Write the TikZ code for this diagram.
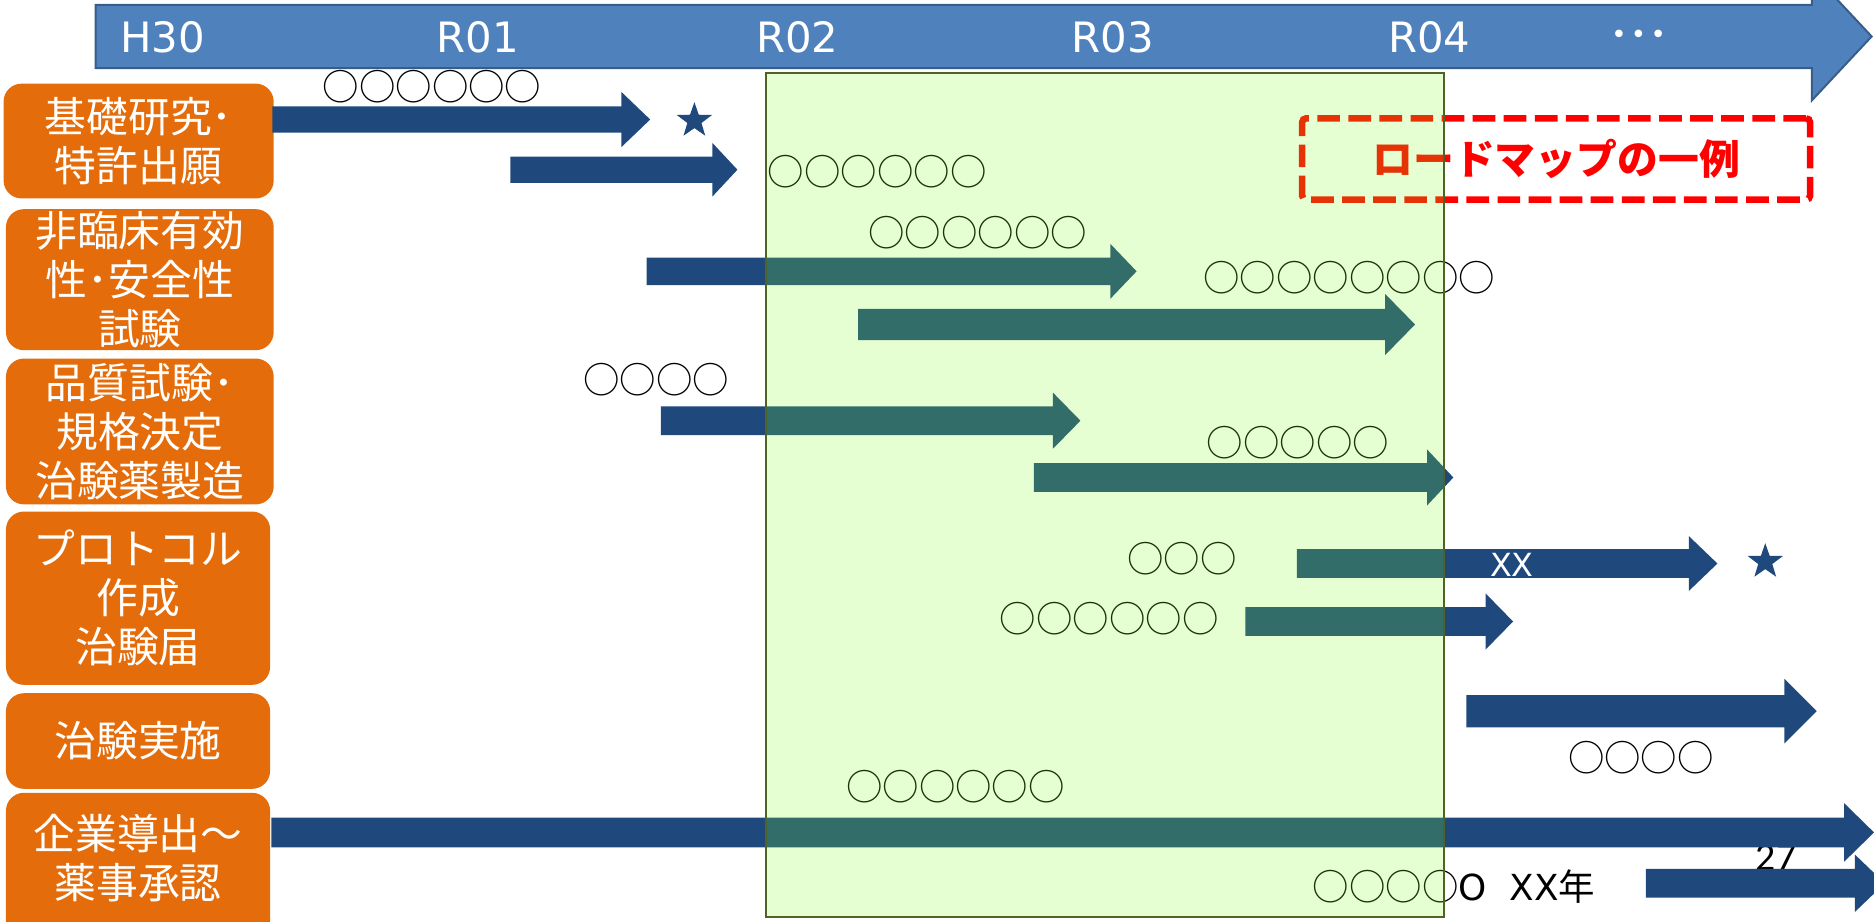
\documentclass[tikz,border=0pt]{standalone}
\usepackage{fontspec}
\setmainfont{DejaVu Sans}
\newfontfamily\jp{Noto Sans CJK JP}
\newfontfamily\pgfont{Carlito}
\usetikzlibrary{shapes.geometric}
\definecolor{navy}{RGB}{31,73,125}
\definecolor{tblue}{RGB}{79,129,189}
\definecolor{tborder}{RGB}{56,93,138}
\definecolor{orng}{RGB}{228,108,10}
\definecolor{lgreen}{RGB}{130,255,30}
\definecolor{gborder}{RGB}{79,98,40}
% block arrow: start x, head base x, tip x, centre y, body half height, head half height
\newcommand\myarrow[6]{\fill[navy] (#1,#4-#5) -- (#2,#4-#5) -- (#2,#4-#6) -- (#3,#4) -- (#2,#4+#6) -- (#2,#4+#5) -- (#1,#4+#5) -- cycle;}
\begin{document}
\begin{tikzpicture}[x=0.6pt,y=-0.6pt,
  obox/.style={fill=orng, rounded corners=9pt, inner sep=0pt},
  otext/.style={text=white, align=center, font=\jp\fontsize{21}{24.6}\selectfont, inner sep=0pt},
  lbl/.style={font=\jp\fontsize{18.3}{20}\selectfont, inner sep=0pt},
  year/.style={text=white, font=\fontsize{21}{24}\selectfont, inner sep=0pt},
  starnode/.style={star, star points=5, star point ratio=2.5, fill=navy, draw=none, minimum size=18.6pt, inner sep=0pt}]
\useasboundingbox (0,0) rectangle (1568,771);
\clip (0,0) rectangle (1568,771);
% timeline
\draw[fill=tblue, draw=tborder, line width=1pt] (80,4) -- (1516,4) -- (1516,-23) -- (1566,30.5) -- (1516,84) -- (1516,57) -- (80,57) -- cycle;
\node[year] (y1) at (136,31) {H30};
\node[year] (y2) at (400,31) {R01};
\node[year] (y3) at (667,31) {R02};
\node[year] (y4) at (931,31) {R03};
\node[year] (y5) at (1196,31) {R04};
\node[text=white, font=\fontsize{13}{15}\selectfont, inner sep=0pt] (y6) at (1371,31) {•\,•\,•};
% left boxes
\node[obox, otext, minimum width=135.6pt, minimum height=57.6pt] (b1) at (116,118) {基礎研究･\\特許出願};
\node[obox, otext, minimum width=134.4pt, minimum height=70.8pt] (b2) at (117,234) {非臨床有効\\性･安全性\\試験};
\node[obox, otext, minimum width=134.4pt, minimum height=73.2pt] (b3) at (117,361) {品質試験･\\規格決定\\治験薬製造};
\node[obox, otext, minimum width=132.6pt, minimum height=87pt] (b4) at (115.5,500.5) {プロトコル\\作成\\治験届};
\node[obox, otext, minimum width=132.6pt, minimum height=48pt] (b5) at (115.5,620) {治験実施};
\node[obox, minimum width=132.6pt, minimum height=80pt] (b6) at (115.5,730) {};
\node[otext] (t6) at (115.5,718) {企業導出～\\薬事承認};
% page number (partly hidden)
\node[font=\pgfont\fontsize{20}{22}\selectfont, anchor=base, inner sep=0pt] (pg) at (1486,728) {27};
% arrows
\myarrow{228}{520}{544}{100}{11}{23}
\myarrow{427}{596}{617}{142}{11}{22.5}
\myarrow{541}{929}{951}{227}{11.5}{23}
\myarrow{718}{1159}{1184}{271.5}{13}{25.5}
\myarrow{553}{881}{904}{352}{12}{23.5}
\myarrow{865}{1194}{1216}{399.5}{12}{23.5}
\myarrow{1085}{1413}{1437}{471.5}{12}{23}
\myarrow{1042}{1243}{1266}{520}{12}{23.5}
\myarrow{1227}{1493}{1520}{595}{13.5}{27}
\myarrow{227}{1543}{1568}{696.5}{12.5}{24.5}
\myarrow{1377}{1552}{1577}{739}{12}{24}
% labels
\node[lbl] (l1) at (361.5,72.5) {○○○○○○};
\node[lbl] (l2) at (734,144) {○○○○○○};
\node[lbl] (l3) at (818,195) {○○○○○○};
\node[lbl] (l4) at (1129,232) {○○○○○○○○};
\node[lbl] (l5) at (549,318) {○○○○};
\node[lbl] (l6) at (1086,370) {○○○○○};
\node[lbl] (l7) at (989,467) {○○○};
\node[lbl] (l8) at (928,518) {○○○○○○};
\node[lbl] (l9) at (1373,634) {○○○○};
\node[lbl] (l10) at (799.5,658) {○○○○○○};
\node[lbl, anchor=west] (l11) at (1098,742) {○○○○{\fontspec{DejaVu Sans}\fontsize{18}{20}\selectfont O\ \ XX}年};
\node[text=white, font=\fontsize{16}{18}\selectfont, inner sep=0pt] (xx) at (1265,473) {XX};
% stars
\node[starnode] (s1) at (581,101) {};
\node[starnode] (s2) at (1477,470) {};
% roadmap example box
\node[draw=red, dash pattern=on 11.4pt off 4.2pt, line width=3.3pt, rounded corners=2pt, minimum width=255pt, minimum height=40.8pt, text=red, font=\jp\bfseries\fontsize{20.5}{22}\selectfont, inner sep=0pt] (rm) at (1302,133) {ロードマップの一例};
% highlighted period overlay
\fill[lgreen, fill opacity=0.2] (641,61) rectangle (1208,767);
\draw[gborder, line width=1.2pt] (641,61) rectangle (1208,767);
\end{tikzpicture}
\end{document}
